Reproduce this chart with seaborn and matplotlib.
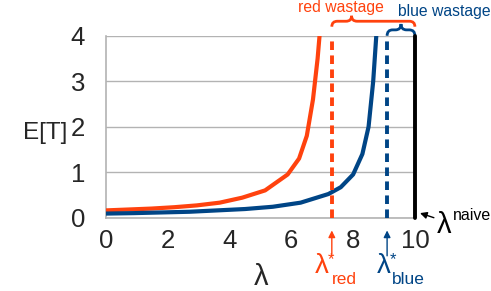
import numpy as np
import pandas as pd
import seaborn as sns
import matplotlib.pyplot as plt
from matplotlib.path import Path
from matplotlib.patches import PathPatch

# values
red_lam = [0, 0.74, 1.47, 2.21, 2.94, 3.68, 4.41, 5.15, 5.88, 6.25, 6.5, 6.7, 6.85, 6.95]
red_et = [0.16, 0.18, 0.2, 0.23, 0.27, 0.33, 0.44, 0.60, 0.95, 1.3, 1.8, 2.6, 3.5, 4.3]
blue_lam = [0, 0.9, 1.8, 2.7, 3.6, 4.5, 5.4, 6.3, 7.2, 7.6, 8.0, 8.3, 8.5, 8.65, 8.78]
blue_et = [0.09, 0.10, 0.115, 0.13, 0.16, 0.19, 0.24, 0.33, 0.52, 0.67, 0.95, 1.4, 2.0, 3.0, 4.3]
lam_red_star = 7.31
lam_blue_star = 9.1
lam_naive = 10
x_ticks = [0, 2, 4, 6, 8, 10]
y_ticks = [0, 1, 2, 3, 4]

RED = '#ff420e'
BLUE = '#004586'
GRID = '#b3b3b3'

sns.set_style('white')
plt.rcParams['font.family'] = ['Liberation Sans', 'DejaVu Sans']

df = pd.concat([
    pd.DataFrame({'lam': red_lam, 'et': red_et, 'series': 'red'}),
    pd.DataFrame({'lam': blue_lam, 'et': blue_et, 'series': 'blue'}),
])

W, H = 491, 291
fig = plt.figure(figsize=(W / 100, H / 100), dpi=100)
ax = fig.add_axes([0.216, 0.252, 0.629, 0.625])


def ftext(x, y, s, **kw):
    # place text at pixel position from the top-left corner
    fig.text(x / W, 1 - y / H, s, **kw)


sns.lineplot(data=df, x='lam', y='et', hue='series', palette={'red': RED, 'blue': BLUE},
             sort=False, estimator=None, linewidth=3, legend=False, ax=ax, zorder=3)

ax.plot([lam_red_star, lam_red_star], [0, 4], color=RED, lw=2.8, ls=(0, (2.2, 1.4)), zorder=4)
ax.plot([lam_blue_star, lam_blue_star], [0, 4], color=BLUE, lw=2.8, ls=(0, (2.2, 1.4)), zorder=4)
ax.plot([lam_naive, lam_naive], [0, 4], color='black', lw=2.8, zorder=4, clip_on=False)

ax.set_xlim(0, 10)
ax.set_ylim(0, 4)
ax.set_xticks(x_ticks)
ax.set_yticks(y_ticks)
ax.tick_params(labelsize=18.5, length=5, color=GRID)
ax.tick_params(axis='y', pad=10)
ax.tick_params(axis='x', pad=3)
ax.yaxis.grid(True, color=GRID, lw=1)
for s in ['top', 'right']:
    ax.spines[s].set_visible(False)
for s in ['left', 'bottom']:
    ax.spines[s].set_color(GRID)
    ax.spines[s].set_linewidth(1.2)
ax.set_xlabel('')
ax.set_ylabel('')
ftext(261, 285, 'λ', fontsize=21, ha='center', va='baseline')
ftext(45, 133, 'E[T]', fontsize=17.5, ha='center', va='center')


def brace(x0, x1, y, h, tip, color):
    r = 0.18
    ym = y + h / 2
    verts = [(x0, y), (x0, ym), (x0 + r, ym), (tip - r, ym), (tip, ym), (tip, y + h),
             (tip, ym), (tip + r, ym), (x1 - r, ym), (x1, ym), (x1, y)]
    codes = [Path.MOVETO, Path.CURVE3, Path.CURVE3, Path.LINETO, Path.CURVE3, Path.CURVE3,
             Path.CURVE3, Path.CURVE3, Path.LINETO, Path.CURVE3, Path.CURVE3]
    ax.add_patch(PathPatch(Path(verts, codes), fill=False, ec=color, lw=2, clip_on=False))


brace(lam_red_star, lam_naive, 4.2, 0.24, 7.95, RED)
brace(lam_blue_star, lam_naive, 4.0, 0.26, 9.55, BLUE)
ax.text(7.6, 4.63, 'red wastage', color=RED, fontsize=11.3, ha='center', va='center')
ax.text(10.95, 4.53, 'blue wastage', color=BLUE, fontsize=11.3, ha='center', va='center')

ax.annotate('', xy=(lam_red_star, -0.22), xytext=(lam_red_star, -0.9), annotation_clip=False,
            arrowprops=dict(arrowstyle='-|>', color=RED, lw=1, mutation_scale=10))
ax.annotate('', xy=(lam_blue_star, -0.22), xytext=(lam_blue_star, -0.9), annotation_clip=False,
            arrowprops=dict(arrowstyle='-|>', color=BLUE, lw=1, mutation_scale=10))

# lambda labels under the axis
ftext(315, 273, 'λ', color=RED, fontsize=20, ha='left', va='baseline')
ftext(328, 264, '*', color=RED, fontsize=12, ha='left', va='baseline')
ftext(332, 283.5, 'red', color=RED, fontsize=12.5, ha='left', va='baseline')
ftext(377, 273, 'λ', color=BLUE, fontsize=20, ha='left', va='baseline')
ftext(390, 264, '*', color=BLUE, fontsize=12, ha='left', va='baseline')
ftext(392, 283.5, 'blue', color=BLUE, fontsize=12.5, ha='left', va='baseline')

ax.annotate('', xy=(lam_naive + 0.08, 0.12), xytext=(lam_naive + 0.7, -0.02), annotation_clip=False,
            arrowprops=dict(arrowstyle='-|>', color='black', lw=1, mutation_scale=10))
ftext(437, 233, 'λ', color='black', fontsize=21, ha='left', va='baseline')
ftext(453, 220, 'naive', color='black', fontsize=11.5, ha='left', va='baseline')

fig.savefig('out.png', dpi=100)
